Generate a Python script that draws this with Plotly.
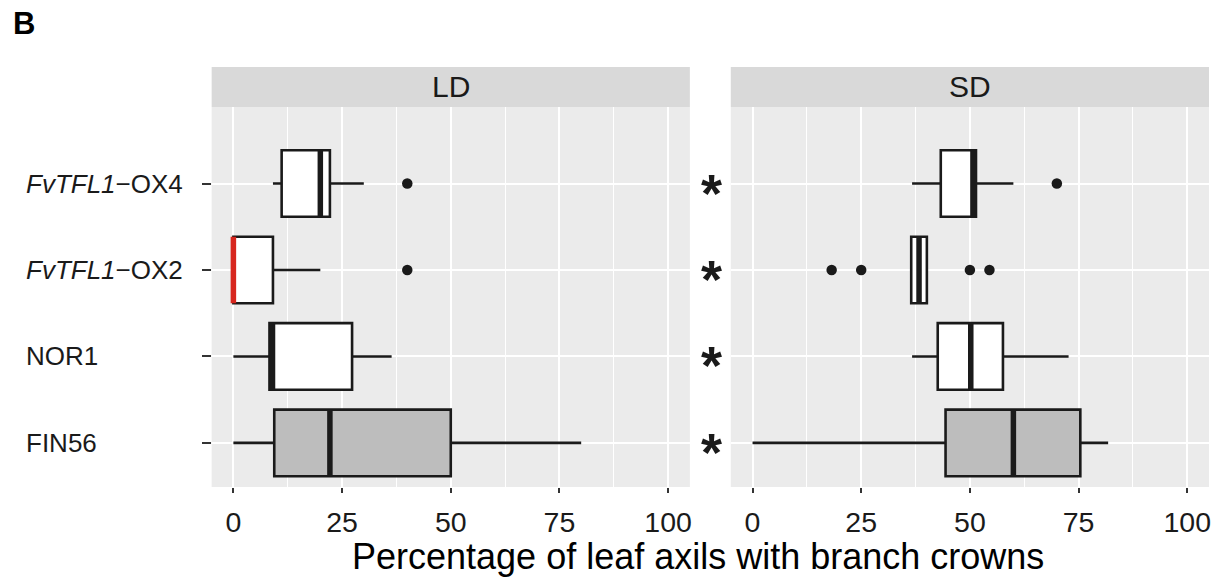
import plotly.graph_objects as go

# ---- data -------------------------------------------------------------
groups = ["FIN56", "NOR1", "FvTFL1-OX2", "FvTFL1-OX4"]
group_labels = ["FIN56", "NOR1", "<i>FvTFL1</i>−OX2", "<i>FvTFL1</i>−OX4"]
positions = [1, 2, 3, 4]
fills = ["#BDBDBD", "white", "white", "white"]

# LD (long day) box statistics
ld_lower = [0.0, 0.0, 0.0, 9.1]
ld_q1 = [9.4, 8.3, 0.0, 11.1]
ld_median = [22.2, 9.0, 0.0, 20.0]
ld_q3 = [50.0, 27.3, 9.1, 22.2]
ld_upper = [80.0, 36.4, 20.0, 30.0]
ld_outliers = {"FvTFL1-OX2": [40.0], "FvTFL1-OX4": [40.0]}
ld_median_colors = ["#1a1a1a", "#1a1a1a", "#D7261E", "#1a1a1a"]

# SD (short day) box statistics
sd_lower = [0.0, 36.7, 36.5, 36.7]
sd_q1 = [44.4, 42.6, 36.5, 43.3]
sd_median = [60.0, 50.2, 38.3, 50.7]
sd_q3 = [75.4, 57.6, 40.1, 51.4]
sd_upper = [81.8, 72.7, 40.1, 60.0]
sd_outliers = {"FvTFL1-OX2": [18.2, 25.0, 50.0, 54.5], "FvTFL1-OX4": [70.0]}
sd_median_colors = ["#1a1a1a"] * 4

# significance marks shown beside the SD panel
sd_marks = ["*", "*", "*", "*"]

x_ticks = [0, 25, 50, 75, 100]
x_minor = [12.5, 37.5, 62.5, 87.5]
x_title = "Percentage of leaf axils with branch crowns"
panels = ["LD", "SD"]

# ---- layout geometry (pixels of a 1217 x 580 page) --------------------
W, H = 1217, 580
FONT = "Liberation Sans, Arial, sans-serif"
INK = "#1a1a1a"
BOX_W = 0.77


def px_x(p):
    return p / W


def px_y(p):
    return 1 - p / H


ld_dom = [px_x(212), px_x(691)]
sd_dom = [px_x(732), px_x(1211)]
y_dom = [px_y(487), px_y(107)]
strip_y = [px_y(107), px_y(67)]

fig = go.Figure()


def add_panel(xa, ya, lower, q1, med, q3, upper, outliers, med_colors):
    for i, g in enumerate(groups):
        fig.add_trace(go.Box(
            y=[positions[i]], q1=[q1[i]], median=[med[i]], q3=[q3[i]],
            lowerfence=[lower[i]], upperfence=[upper[i]],
            orientation="h", width=BOX_W, whiskerwidth=0,
            fillcolor=fills[i], line=dict(color=INK, width=2.6),
            boxpoints=False, showlegend=False, xaxis=xa, yaxis=ya,
            hoverinfo="skip",
        ))
        # thicker median bar
        fig.add_trace(go.Scatter(
            x=[med[i], med[i]],
            y=[positions[i] - BOX_W / 2, positions[i] + BOX_W / 2],
            mode="lines", line=dict(color=med_colors[i], width=5.5),
            showlegend=False, xaxis=xa, yaxis=ya, hoverinfo="skip",
        ))
        pts = outliers.get(g, [])
        if pts:
            fig.add_trace(go.Scatter(
                x=pts, y=[positions[i]] * len(pts), mode="markers",
                marker=dict(color=INK, size=10.5),
                showlegend=False, xaxis=xa, yaxis=ya, hoverinfo="skip",
            ))


add_panel("x", "y", ld_lower, ld_q1, ld_median, ld_q3, ld_upper,
          ld_outliers, ld_median_colors)
add_panel("x2", "y2", sd_lower, sd_q1, sd_median, sd_q3, sd_upper,
          sd_outliers, sd_median_colors)

xaxis_common = dict(
    range=[-5, 105], tickvals=x_ticks, ticktext=[str(v) for v in x_ticks],
    ticks="outside", ticklen=5, tickwidth=2, tickcolor="#333333",
    ticklabelstandoff=5,
    showgrid=True, gridcolor="white", gridwidth=2.4, zeroline=False,
    showline=False, tickfont=dict(family=FONT, size=28.5, color=INK),
    minor=dict(tickvals=x_minor, showgrid=True, gridcolor="white",
               gridwidth=1.1, ticks=""),
    fixedrange=True,
)
yaxis_common = dict(
    range=[0.49, 4.885], tickvals=positions, showgrid=True,
    gridcolor="white", gridwidth=2.4, zeroline=False, showline=False,
    fixedrange=True, domain=y_dom,
)

fig.update_layout(
    width=W, height=H, margin=dict(l=0, r=0, t=0, b=0),
    paper_bgcolor="white", plot_bgcolor="#EBEBEB",
    xaxis=dict(domain=ld_dom, anchor="y", **xaxis_common),
    xaxis2=dict(domain=sd_dom, anchor="y2", **xaxis_common),
    yaxis=dict(anchor="x", ticks="outside", ticklen=9, tickwidth=2.4,
               tickcolor="#333333", showticklabels=False, **yaxis_common),
    yaxis2=dict(anchor="x2", ticks="", showticklabels=False, **yaxis_common),
    font=dict(family=FONT, color=INK),
)

shapes = []
annotations = []

# facet strips
for name, dom in zip(panels, [ld_dom, sd_dom]):
    shapes.append(dict(type="rect", xref="paper", yref="paper",
                       x0=dom[0], x1=dom[1], y0=strip_y[0], y1=strip_y[1],
                       fillcolor="#D9D9D9", line=dict(width=0), layer="below"))
    annotations.append(dict(text=name, xref="paper", yref="paper",
                            x=(dom[0] + dom[1]) / 2,
                            y=(strip_y[0] + strip_y[1]) / 2,
                            xanchor="center", yanchor="middle", showarrow=False,
                            font=dict(family=FONT, size=30, color=INK)))

# left-aligned group labels
for lab, p in zip(group_labels, positions):
    annotations.append(dict(text=lab, xref="paper", yref="y", x=px_x(24), y=p,
                            xanchor="left", yanchor="middle", showarrow=False,
                            font=dict(family=FONT, size=26, color=INK)))

# significance asterisks
for m, p in zip(sd_marks, positions):
    annotations.append(dict(text="<b>" + m + "</b>", xref="paper", yref="y2",
                            x=px_x(713), y=p, xanchor="center",
                            yanchor="middle", yshift=-9, showarrow=False,
                            font=dict(family=FONT, size=54, color=INK)))

# shared x-axis title
annotations.append(dict(text=x_title, xref="paper", yref="paper",
                        x=px_x(699), y=px_y(556), xanchor="center",
                        yanchor="middle", showarrow=False,
                        font=dict(family=FONT, size=36, color="black")))

# panel letter
annotations.append(dict(text="<b>B</b>", xref="paper", yref="paper",
                        x=px_x(11), y=px_y(24), xanchor="left",
                        yanchor="middle", showarrow=False,
                        font=dict(family=FONT, size=31, color="black")))

fig.update_layout(shapes=shapes, annotations=annotations)
fig.write_html("out.html")
